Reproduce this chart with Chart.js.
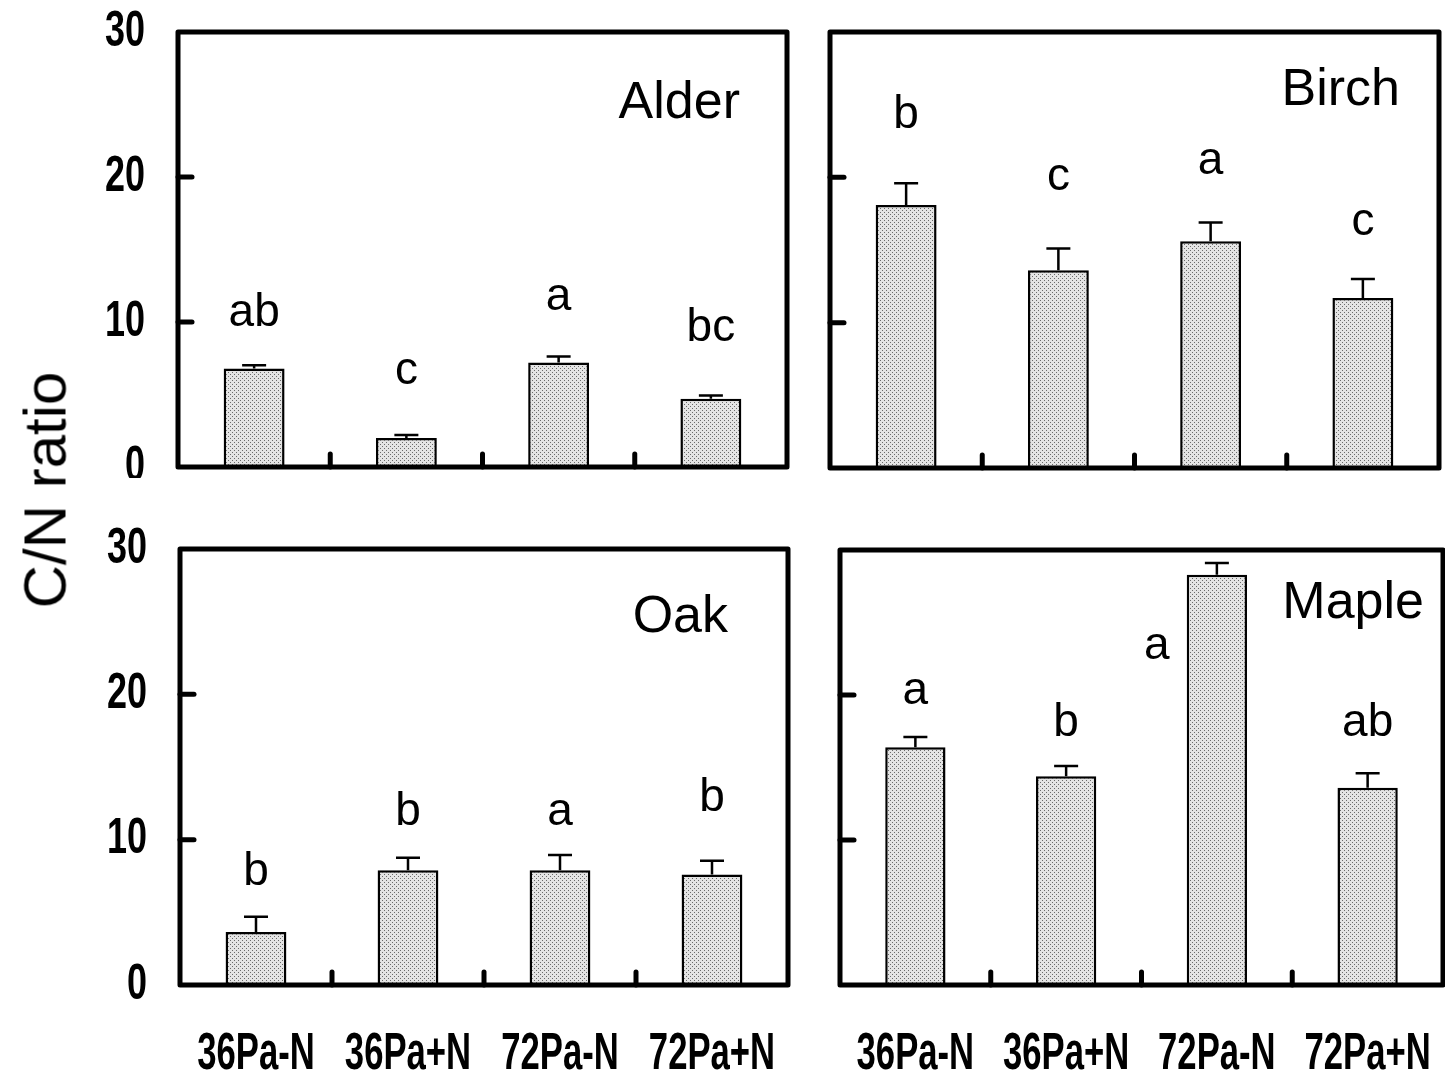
<!DOCTYPE html>
<html>
<head>
<meta charset="utf-8">
<script src="https://cdn.jsdelivr.net/npm/chart.js@4.4.0/dist/chart.umd.min.js"></script>
<style>
  body { margin: 0; background: #fff; }
  #wrap { position: relative; width: 1445px; height: 1076px; overflow: hidden; }
  #wrap canvas { position: absolute; }
  #ylab {
    position: absolute; left: 45px; top: 490px;
    transform: translate(-50%, -50%) rotate(-90deg);
    font: 60px "Liberation Sans", Arial, sans-serif; white-space: nowrap;
  }
</style>
</head>
<body>
<div id="wrap">
  <canvas id="alder" style="left:0;top:0"></canvas>
  <canvas id="birch" style="left:808px;top:0"></canvas>
  <canvas id="oak" style="left:0;top:478px"></canvas>
  <canvas id="maple" style="left:808px;top:478px"></canvas>
  <div id="ylab">C/N ratio</div>
</div>
<script>
// data
const categories = ['36Pa-N', '36Pa+N', '72Pa-N', '72Pa+N'];
const yTicks = [0, 10, 20, 30];

const alderMean = [6.8, 2.0, 7.2, 4.7];
const alderSE = [0.22, 0.2, 0.42, 0.23];
const alderLetters = ['ab', 'c', 'a', 'bc'];
const alderLetterAt = [9.7, 5.7, 10.8, 8.7];

const birchMean = [18.1, 13.6, 15.6, 11.7];
const birchSE = [1.5, 1.5, 1.3, 1.3];
const birchLetters = ['b', 'c', 'a', 'c'];
const birchLetterAt = [23.4, 19.1, 20.2, 16.0];

const oakMean = [3.65, 7.9, 7.9, 7.6];
const oakSE = [1.05, 0.85, 1.05, 0.95];
const oakLetters = ['b', 'b', 'a', 'b'];
const oakLetterAt = [6.9, 11.0, 11.0, 12.0];

const mapleMean = [16.4, 14.4, 28.3, 13.6];
const mapleSE = [0.7, 0.7, 0.8, 1.0];
const mapleLetters = ['a', 'b', 'a', 'ab'];
const mapleLetterAt = [19.4, 17.2, 22.5, 17.2];

const sans = '"Liberation Sans", Arial, sans-serif';

function dots() {
    const c = document.createElement('canvas');
    c.width = 4; c.height = 4;
    const g = c.getContext('2d');
    g.fillStyle = '#e4e4e4';
    g.fillRect(0, 0, 4, 4);
    g.fillStyle = '#6a6a6a';
    g.fillRect(0, 0, 1, 1);
    g.fillRect(2, 2, 1, 1);
    return g.createPattern(c, 'repeat');
}

// narrow bold text: squeeze Liberation Sans Bold horizontally
function narrowText(ctx, t, px, py, sx) {
    ctx.save();
    ctx.translate(px, py);
    ctx.scale(sx, 1);
    ctx.fillText(t, 0, 0);
    ctx.restore();
}

const panelDeco = {
    id: 'panelDeco',
    afterDatasetsDraw(chart, args, o) {
        const ctx = chart.ctx;
        const a = chart.chartArea;
        const x = chart.scales.x, y = chart.scales.y;
        ctx.save();
        ctx.strokeStyle = '#000';
        ctx.fillStyle = '#000';

        // error bars
        ctx.lineWidth = 2.5;
        o.mean.forEach((m, i) => {
            const px = x.getPixelForValue(i);
            const top = y.getPixelForValue(m);
            const e = y.getPixelForValue(m + o.se[i]);
            ctx.beginPath();
            ctx.moveTo(px, top); ctx.lineTo(px, e);
            ctx.moveTo(px - 12, e); ctx.lineTo(px + 12, e);
            ctx.stroke();
        });

        // frame
        ctx.lineWidth = 5;
        ctx.lineJoin = 'round';
        ctx.strokeRect(a.left, a.top, a.right - a.left, a.bottom - a.top);

        // inward ticks
        ctx.lineCap = 'round';
        [10, 20].forEach(v => {
            const py = y.getPixelForValue(v);
            ctx.beginPath();
            ctx.moveTo(a.left, py); ctx.lineTo(a.left + 14, py);
            ctx.stroke();
        });
        for (let i = 0; i < categories.length - 1; i++) {
            const px = (x.getPixelForValue(i) + x.getPixelForValue(i + 1)) / 2;
            ctx.beginPath();
            ctx.moveTo(px, a.bottom); ctx.lineTo(px, a.bottom - 13);
            ctx.stroke();
        }

        // significance letters
        ctx.font = '46px ' + sans;
        ctx.textAlign = 'center';
        ctx.textBaseline = 'alphabetic';
        o.letters.forEach((t, i) => {
            const shift = (o.letterShift && o.letterShift[i]) || 0;
            ctx.fillText(t, x.getPixelForValue(i) + shift, y.getPixelForValue(o.letterAt[i]));
        });

        // panel name
        ctx.font = '52px ' + sans;
        ctx.textAlign = 'right';
        ctx.fillText(o.name, a.right - o.nameRight, a.top + o.nameDown);

        // y tick labels
        if (o.yLabels) {
            ctx.font = 'bold 50px ' + sans;
            ctx.textAlign = 'right';
            ctx.textBaseline = 'middle';
            yTicks.forEach(v => narrowText(ctx, String(v), a.left - 33, y.getPixelForValue(v), 0.72));
        }

        // category labels
        if (o.xLabels) {
            ctx.font = 'bold 51px ' + sans;
            ctx.textAlign = 'center';
            ctx.textBaseline = 'alphabetic';
            categories.forEach((c, i) => narrowText(ctx, c, x.getPixelForValue(i), a.bottom + 84, 0.68));
        }
        ctx.restore();
    }
};

function panel(id, w, h, pad, mean, se, letters, letterAt, extra) {
    const cv = document.getElementById(id);
    cv.width = w; cv.height = h;
    cv.style.width = w + 'px'; cv.style.height = h + 'px';
    new Chart(cv, {
        type: 'bar',
        data: {
            labels: categories,
            datasets: [{
                data: mean,
                backgroundColor: dots(),
                borderColor: '#000',
                borderWidth: 2.5,
                borderSkipped: 'bottom',
                barPercentage: 0.4,
                categoryPercentage: 1
            }]
        },
        options: {
            responsive: false,
            animation: false,
            layout: { padding: pad },
            plugins: {
                legend: { display: false },
                tooltip: { enabled: false },
                panelDeco: Object.assign({ mean: mean, se: se, letters: letters, letterAt: letterAt }, extra)
            },
            scales: {
                x: { display: false },
                y: { display: false, min: 0, max: 30 }
            }
        },
        plugins: [panelDeco]
    });
}

panel('alder', 808, 478, { left: 178, right: 21, top: 32, bottom: 11 },
    alderMean, alderSE, alderLetters, alderLetterAt,
    { name: 'Alder', nameRight: 47, nameDown: 86, yLabels: true, xLabels: false });
panel('birch', 637, 478, { left: 22, right: 6, top: 32, bottom: 10 },
    birchMean, birchSE, birchLetters, birchLetterAt,
    { name: 'Birch', nameRight: 39, nameDown: 73, yLabels: false, xLabels: false });
panel('oak', 808, 598, { left: 180, right: 20, top: 71, bottom: 91 },
    oakMean, oakSE, oakLetters, oakLetterAt,
    { name: 'Oak', nameRight: 60, nameDown: 83, yLabels: true, xLabels: true });
panel('maple', 637, 598, { left: 32, right: 2, top: 72, bottom: 91 },
    mapleMean, mapleSE, mapleLetters, mapleLetterAt,
    { name: 'Maple', nameRight: 19, nameDown: 68, yLabels: false, xLabels: true, letterShift: [0, 0, -60, 0] });
</script>
</body>
</html>
